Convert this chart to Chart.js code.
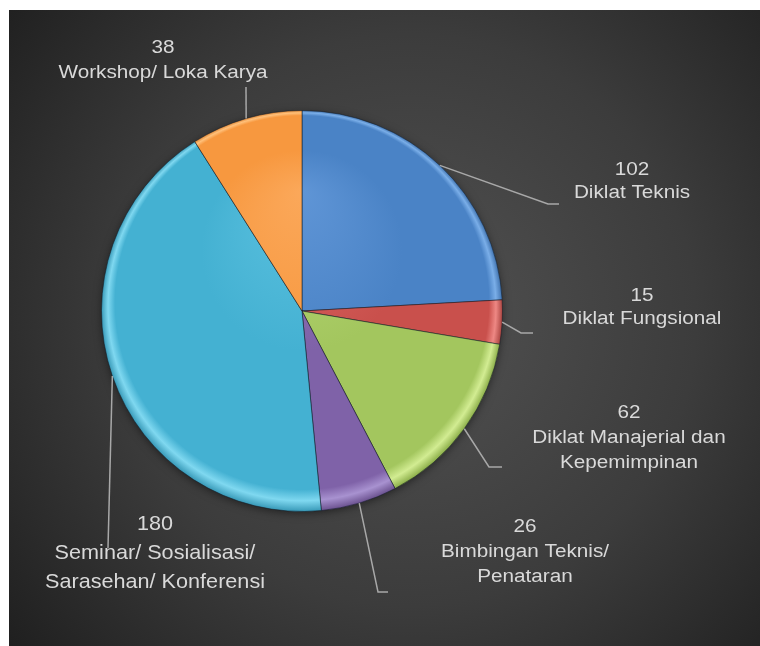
<!DOCTYPE html>
<html>
<head>
<meta charset="utf-8">
<script src="https://cdn.jsdelivr.net/npm/chart.js@4/dist/chart.umd.min.js"></script>
<style>
  html, body { margin: 0; padding: 0; background: #ffffff; }
  #wrap { width: 760px; height: 646px; }
</style>
</head>
<body>
<div id="wrap"><canvas id="c" width="760" height="646"></canvas></div>
<script>
// ---- data ----
const categories = [
  ["Diklat Teknis"],
  ["Diklat Fungsional"],
  ["Diklat Manajerial dan", "Kepemimpinan"],
  ["Bimbingan Teknis/", "Penataran"],
  ["Seminar/ Sosialisasi/", "Sarasehan/ Konferensi"],
  ["Workshop/ Loka Karya"]
];
const values = [102, 15, 62, 26, 180, 38];
const baseColors = ["#4a83c6", "#c9504c", "#a3c65e", "#7f62a8", "#44b1d2", "#f7983f"];
const lightColors = ["#5f95d6", "#dc6a66", "#b8d877", "#9177ba", "#5cc2e0", "#fba85a"];
const rimColors = ["#7aaee8", "#ee8884", "#d2ec92", "#a892d0", "#7fd8f0", "#ffc07a"];
const darkColors = ["#3b6eab", "#a53f3b", "#88ab45", "#684e8c", "#3496b5", "#db7e2a"];

// ---- layout for labels (pixel layout, not data) ----
const labelLayout = [
  { x: 632, y: 170, lh: 23, elbow: [[548, 204], [559, 204]] },
  { x: 642, y: 296, lh: 23, elbow: [[521, 333], [533, 333]] },
  { x: 629, y: 413, lh: 25, elbow: [[489, 467], [502, 467]] },
  { x: 525, y: 527, lh: 25, elbow: [[378, 592], [388, 592]] },
  { x: 155, y: 524, lh: 29, elbow: [[108, 548]], big: true },
  { x: 163, y: 48, lh: 25, elbow: [[246, 87]] }
];

const bgPlugin = {
  id: 'bg',
  beforeDraw(chart) {
    const ctx = chart.ctx;
    ctx.save();
    ctx.fillStyle = '#ffffff';
    ctx.fillRect(0, 0, chart.width, chart.height);
    const g = ctx.createRadialGradient(410, 320, 0, 410, 320, 520);
    g.addColorStop(0, '#525252');
    g.addColorStop(0.55, '#3c3c3c');
    g.addColorStop(1, '#1f1f1f');
    ctx.fillStyle = g;
    ctx.fillRect(9, 10, chart.width - 9, chart.height - 10);
    ctx.restore();
  },
  beforeDatasetsDraw(chart) {
    const meta = chart.getDatasetMeta(0);
    const a = meta.data[0];
    if (!a) return;
    const ctx = chart.ctx;
    ctx.save();
    ctx.shadowColor = 'rgba(0,0,0,0.55)';
    ctx.shadowBlur = 10;
    ctx.shadowOffsetY = 2;
    ctx.fillStyle = '#2a2a2a';
    ctx.beginPath();
    ctx.arc(a.x, a.y, a.outerRadius - 1, 0, Math.PI * 2);
    ctx.fill();
    ctx.restore();
  }
};

const labelPlugin = {
  id: 'outLabels',
  afterDatasetsDraw(chart) {
    const ctx = chart.ctx;
    const meta = chart.getDatasetMeta(0);
    meta.data.forEach((arc, i) => {
      const L = labelLayout[i];
      const mid = (arc.startAngle + arc.endAngle) / 2;
      const sx = arc.x + Math.cos(mid) * arc.outerRadius;
      const sy = arc.y + Math.sin(mid) * arc.outerRadius;
      ctx.save();
      ctx.strokeStyle = '#a8a8a8';
      ctx.lineWidth = 1.5;
      ctx.beginPath();
      ctx.moveTo(sx, sy);
      L.elbow.forEach(p => ctx.lineTo(p[0], p[1]));
      ctx.stroke();
      ctx.restore();

      const lines = [String(values[i])].concat(categories[i]);
      ctx.save();
      ctx.fillStyle = '#d9d9d9';
      ctx.textAlign = 'center';
      ctx.textBaseline = 'middle';
      lines.forEach((t, k) => {
        ctx.save();
        ctx.translate(L.x, L.y + k * L.lh);
        if (L.big) {
          ctx.font = '21px "Liberation Sans", Arial, sans-serif';
          ctx.scale(1.03, 1);
        } else {
          ctx.font = '18px "Liberation Sans", Arial, sans-serif';
          ctx.scale(1.15, 1);
        }
        ctx.fillText(t, 0, 0);
        ctx.restore();
      });
      ctx.restore();
    });
  }
};

function sliceFill(context) {
  const i = context.dataIndex;
  const chart = context.chart;
  const area = chart.chartArea;
  if (!area) return baseColors[i];
  const cx = (area.left + area.right) / 2;
  const cy = (area.top + area.bottom) / 2;
  const r = Math.min(area.right - area.left, area.bottom - area.top) / 2;
  const g = chart.ctx.createRadialGradient(cx, cy - r * 0.6, 0, cx, cy, r);
  g.addColorStop(0, lightColors[i]);
  g.addColorStop(0.5, baseColors[i]);
  g.addColorStop(0.93, baseColors[i]);
  g.addColorStop(0.965, rimColors[i]);
  g.addColorStop(1, darkColors[i]);
  return g;
}

new Chart(document.getElementById('c'), {
  type: 'pie',
  data: {
    labels: categories.map(c => c.join(' ')),
    datasets: [{
      data: values,
      backgroundColor: sliceFill,
      borderColor: 'rgba(20,30,40,0.55)',
      borderWidth: 1
    }]
  },
  options: {
    responsive: false,
    animation: false,
    rotation: 0,
    layout: { padding: { left: 101, right: 257, top: 110, bottom: 134 } },
    plugins: {
      legend: { display: false },
      tooltip: { enabled: false }
    }
  },
  plugins: [bgPlugin, labelPlugin]
});
</script>
</body>
</html>
